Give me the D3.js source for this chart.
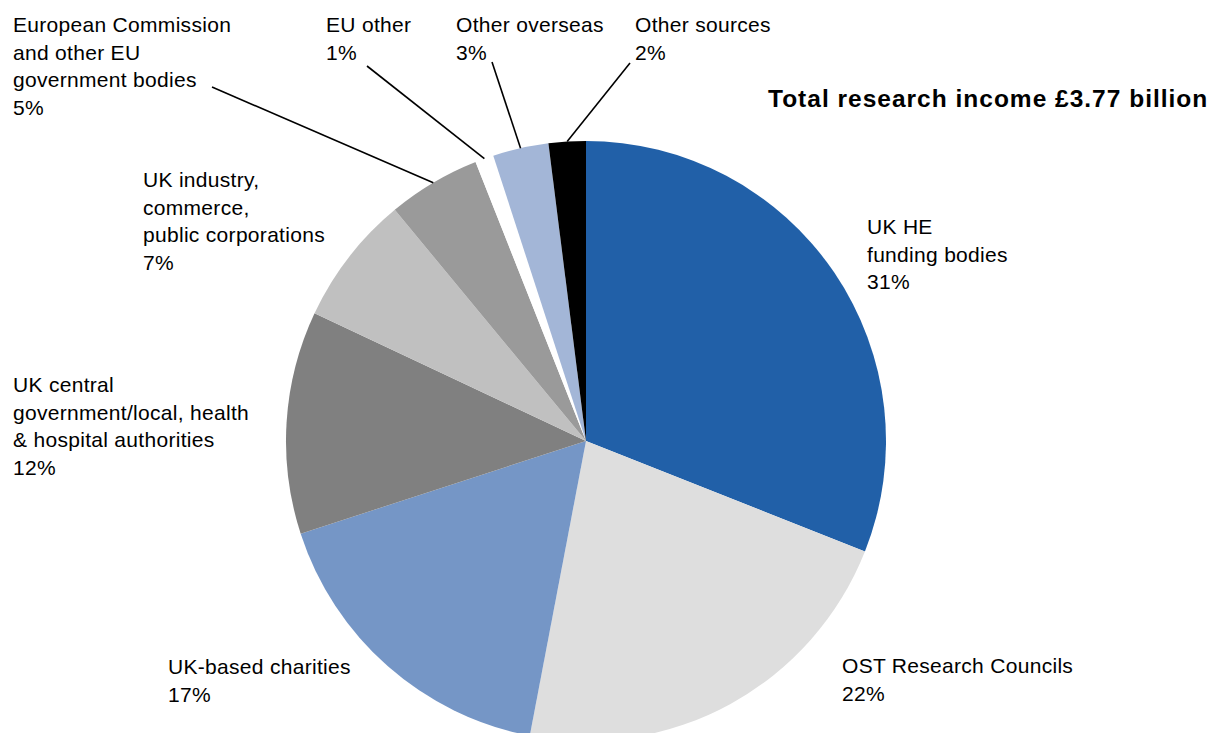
<!DOCTYPE html>
<html>
<head>
<meta charset="utf-8">
<script src="https://cdn.jsdelivr.net/npm/d3@7"></script>
<style>
  html, body { margin: 0; padding: 0; background: #fff; }
  svg { display: block; font-family: "Liberation Sans", Arial, sans-serif; }
</style>
</head>
<body>
<svg id="chart" width="1218" height="733"></svg>
<script>
// Sources of research income (percent of total), clockwise from 12 o'clock
const categories = [
  "UK HE funding bodies",
  "OST Research Councils",
  "UK-based charities",
  "UK central government/local, health & hospital authorities",
  "UK industry, commerce, public corporations",
  "European Commission and other EU government bodies",
  "EU other",
  "Other overseas",
  "Other sources"
];
const shares = [31, 22, 17, 12, 7, 5, 1, 3, 2];
const colours = ["#2160a8", "#dedede", "#7596c6", "#808080", "#c0c0c0", "#9a9a9a", "#ffffff", "#a3b6d7", "#000000"];

// Label text lines (last line is the percentage)
const labelLines = [
  ["UK HE", "funding bodies"],
  ["OST Research Councils"],
  ["UK-based charities"],
  ["UK central", "government/local, health", "& hospital authorities"],
  ["UK industry,", "commerce,", "public corporations"],
  ["European Commission", "and other EU", "government bodies"],
  ["EU other"],
  ["Other overseas"],
  ["Other sources"]
];
const totalTitle = "Total research income £3.77 billion";

// Layout
const cx = 586, cy = 441, R = 300;
const fontSize = 21;
const lineH = 27.7;
// label anchor: left x, first baseline y; leader: start point (or null)
const labelPos = [
  { x: 867, y: 234, leader: null },
  { x: 842, y: 673, leader: null },
  { x: 168, y: 674, leader: null },
  { x: 13,  y: 392, leader: null },
  { x: 143, y: 187, leader: null },
  { x: 13,  y: 32,  leader: [212, 87] },
  { x: 326, y: 32,  leader: [367, 66] },
  { x: 456, y: 32,  leader: [492, 62] },
  { x: 635, y: 32,  leader: [630, 63] }
];

const data = categories.map((c, i) => ({ name: c, value: shares[i], colour: colours[i], lines: labelLines[i], pos: labelPos[i] }));

const svg = d3.select("#chart");
const g = svg.append("g").attr("transform", `translate(${cx},${cy})`);

const pie = d3.pie().value(d => d.value).sort(null).startAngle(0).endAngle(2 * Math.PI);
const arcs = pie(data);
const arc = d3.arc().innerRadius(0).outerRadius(R);

g.selectAll("path.slice")
  .data(arcs)
  .join("path")
  .attr("class", "slice")
  .attr("d", arc)
  .attr("fill", d => d.data.colour);

// Leader lines from labels to the slice edge
const edge = a => {
  const m = (a.startAngle + a.endAngle) / 2;
  return [cx + R * Math.sin(m), cy - R * Math.cos(m)];
};
svg.selectAll("line.leader")
  .data(arcs.filter(a => a.data.pos.leader))
  .join("line")
  .attr("class", "leader")
  .attr("x1", d => d.data.pos.leader[0])
  .attr("y1", d => d.data.pos.leader[1])
  .attr("x2", d => edge(d)[0])
  .attr("y2", d => edge(d)[1])
  .attr("stroke", "#000")
  .attr("stroke-width", 1.6);

// Labels
const labels = svg.selectAll("text.label")
  .data(data)
  .join("text")
  .attr("class", "label")
  .attr("x", d => d.pos.x)
  .attr("y", d => d.pos.y)
  .attr("font-size", fontSize)
  .attr("letter-spacing", 0.3)
  .attr("fill", "#000");

labels.each(function (d) {
  const t = d3.select(this);
  const lines = d.lines.concat([d.value + "%"]);
  lines.forEach((ln, i) => {
    t.append("tspan")
      .attr("x", d.pos.x)
      .attr("y", d.pos.y + i * lineH)
      .text(ln);
  });
});

// Total
svg.append("text")
  .attr("x", 768)
  .attr("y", 107)
  .attr("font-size", 24.5)
  .attr("font-weight", "bold")
  .attr("letter-spacing", 1.0)
  .attr("fill", "#000")
  .text(totalTitle);
</script>
</body>
</html>
